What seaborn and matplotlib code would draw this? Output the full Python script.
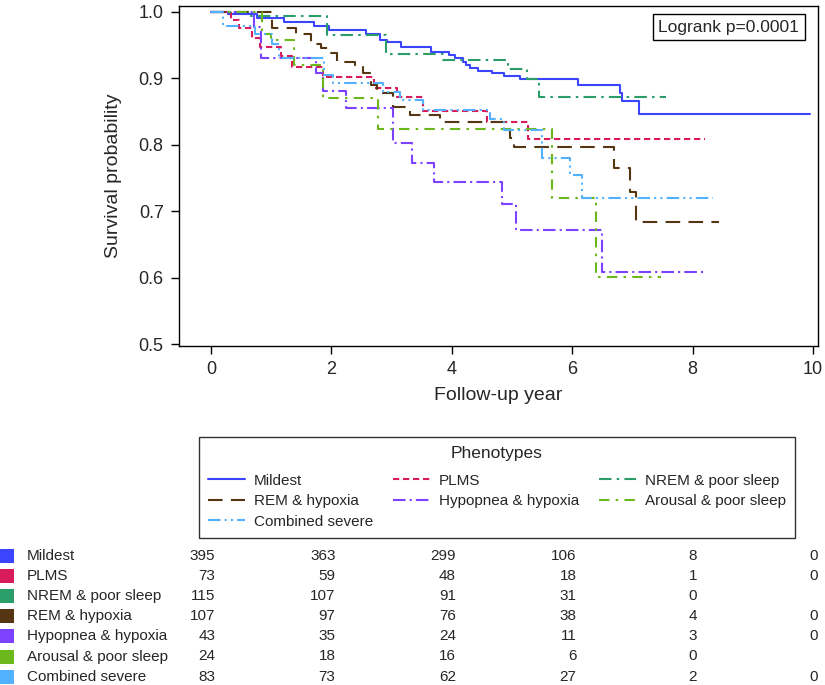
import numpy as np
import pandas as pd
import matplotlib
matplotlib.use("Agg")
import matplotlib.pyplot as plt
from matplotlib.patches import Rectangle
from matplotlib.transforms import blended_transform_factory
import seaborn as sns

# phenotype groups, in legend / table order
phenotypes = ["Mildest", "PLMS", "NREM & poor sleep", "REM & hypoxia",
              "Hypopnea & hypoxia", "Arousal & poor sleep", "Combined severe"]
colors = ["#3b45ff", "#d81b5a", "#2a9d68", "#553512", "#7c42ff", "#6cb71c", "#52b2ff"]
dash_styles = ["", (3, 1.8), (6, 2.5, 1.2, 2.5), (7, 4), (6, 2, 1, 2),
               (5, 3, 1.2, 3), (6, 2, 1, 2, 1, 2)]

# Kaplan-Meier step values (year, survival)
mildest_t = [0, 0.28, 0.77, 1.21, 1.71, 1.96, 2.57, 2.8, 2.93, 3.15, 3.65, 3.95, 4.06,
             4.18, 4.23, 4.31, 4.43, 4.67, 4.86, 5.14, 6.1, 6.79, 6.83, 7.11, 9.95]
mildest_s = [1.0, 0.996, 0.99, 0.985, 0.979, 0.973, 0.966, 0.958, 0.955, 0.947, 0.939, 0.935,
             0.930, 0.925, 0.920, 0.916, 0.911, 0.907, 0.903, 0.899, 0.889, 0.878, 0.865,
             0.846, 0.846]
plms_t = [0, 0.33, 0.47, 0.68, 0.82, 1.17, 1.34, 1.86, 2.7, 3.09, 3.52, 4.59, 5.26, 8.2]
plms_s = [1.0, 0.988, 0.975, 0.96, 0.947, 0.933, 0.917, 0.901, 0.885, 0.872, 0.851,
          0.834, 0.808, 0.808]
nrem_t = [0, 0.62, 1.92, 2.90, 3.85, 4.93, 5.25, 5.45, 7.55]
nrem_s = [1.0, 0.993, 0.965, 0.937, 0.927, 0.914, 0.899, 0.872, 0.872]
rem_t = [0, 1.01, 1.42, 1.67, 1.83, 2.0, 2.09, 2.39, 2.52, 2.66, 2.75, 3.02, 3.3, 3.8,
         4.88, 4.96, 5.04, 6.7, 6.96, 7.05, 8.43]
rem_s = [1.0, 0.975, 0.966, 0.952, 0.945, 0.938, 0.925, 0.920, 0.907, 0.890, 0.877,
         0.857, 0.845, 0.834, 0.822, 0.810, 0.797, 0.765, 0.729, 0.684, 0.684]
hypo_t = [0, 0.72, 0.83, 1.74, 1.86, 2.25, 3.03, 3.34, 3.71, 4.84, 5.07, 6.5, 8.2]
hypo_s = [1.0, 0.977, 0.931, 0.907, 0.881, 0.855, 0.803, 0.773, 0.744, 0.710, 0.672,
          0.608, 0.608]
arousal_t = [0, 0.85, 1.0, 1.38, 1.86, 2.78, 5.67, 6.4, 7.47]
arousal_s = [1.0, 0.967, 0.957, 0.920, 0.870, 0.823, 0.720, 0.601, 0.601]
combined_t = [0, 0.2, 0.73, 1.02, 1.13, 1.87, 2.03, 2.86, 3.14, 3.52, 4.63, 4.86, 5.5,
              5.97, 6.16, 8.34]
combined_s = [1.0, 0.979, 0.966, 0.952, 0.931, 0.905, 0.892, 0.879, 0.867, 0.852, 0.838,
              0.822, 0.780, 0.754, 0.720, 0.720]

# numbers at risk
risk_years = [0, 2, 4, 6, 8, 10]
risk_mildest = [395, 363, 299, 106, 8, 0]
risk_plms = [73, 59, 48, 18, 1, 0]
risk_nrem = [115, 107, 91, 31, 0, None]
risk_rem = [107, 97, 76, 38, 4, 0]
risk_hypo = [43, 35, 24, 11, 3, 0]
risk_arousal = [24, 18, 16, 6, 0, None]
risk_combined = [83, 73, 62, 27, 2, 0]

curves = [(mildest_t, mildest_s), (plms_t, plms_s), (nrem_t, nrem_s), (rem_t, rem_s),
          (hypo_t, hypo_s), (arousal_t, arousal_s), (combined_t, combined_s)]
risk = [risk_mildest, risk_plms, risk_nrem, risk_rem, risk_hypo, risk_arousal, risk_combined]

frames = []
for name, (t, s) in zip(phenotypes, curves):
    frames.append(pd.DataFrame({"year": t, "surv": s, "phenotype": name}))
df = pd.concat(frames, ignore_index=True)

sns.set_style("ticks")
plt.rcParams["font.family"] = ["Liberation Sans", "DejaVu Sans"]

fig = plt.figure(figsize=(8.25, 6.85), dpi=100)
W, H = 825, 685
ax = fig.add_axes([179 / W, 1 - 346 / H, (818 - 179) / W, (346 - 5.7) / H])

sns.lineplot(data=df, x="year", y="surv", hue="phenotype", style="phenotype",
             hue_order=phenotypes, style_order=phenotypes,
             palette=dict(zip(phenotypes, colors)),
             dashes=dict(zip(phenotypes, dash_styles)),
             drawstyle="steps-post", estimator=None, sort=False, linewidth=1.5, ax=ax)

handles, labels = ax.get_legend_handles_labels()
ax.get_legend().remove()
hmap = dict(zip(labels, handles))

ax.set_xlim(-0.53, 10.08)
ax.set_ylim(0.497, 1.009)
ax.set_xticks([0, 2, 4, 6, 8, 10])
ax.set_yticks([0.5, 0.6, 0.7, 0.8, 0.9, 1.0])
ax.yaxis.set_major_formatter(matplotlib.ticker.FormatStrFormatter("%.1f"))
ax.tick_params(axis="both", labelsize=13, length=6, width=1, pad=5, color="black")
for sp in ax.spines.values():
    sp.set_color("black")
    sp.set_linewidth(1)
ax.set_xlabel("Follow-up year", fontsize=14, labelpad=6)
ax.set_ylabel("Survival probability", fontsize=14, labelpad=12)

ax.text(0.8605, 0.937, "Logrank p=0.0001", transform=ax.transAxes, ha="center", va="center",
        fontsize=12.5, bbox=dict(boxstyle="square,pad=0.3", fc="white", ec="black", lw=1))

# legend laid out row by row like the original (matplotlib fills column-wise)
leg_order = ["Mildest", "REM & hypoxia", "Combined severe", "PLMS", "Hypopnea & hypoxia",
             "NREM & poor sleep", "Arousal & poor sleep"]
leg = fig.legend([hmap[n] for n in leg_order], leg_order, ncol=3, title="Phenotypes",
                 loc="center", mode="expand", borderaxespad=0,
                 bbox_to_anchor=(199 / W, 1 - 539 / H, (795 - 199) / W, (539 - 436) / H),
                 fontsize=11, title_fontsize=12.5, frameon=True, fancybox=False,
                 edgecolor="black", handlelength=2.4, handletextpad=0.6,
                 labelspacing=0.42, borderpad=0.6, columnspacing=1.0)
leg.get_frame().set_linewidth(1)
leg._legend_box.sep = 9

# numbers at risk table
trans = blended_transform_factory(ax.transData, fig.transFigure)
for i, (name, col, row) in enumerate(zip(phenotypes, colors, risk)):
    yc = 1 - (555.5 + 20.2 * i) / H
    fig.patches.append(Rectangle((0, yc - 7 / H), 14 / W, 14 / H, transform=fig.transFigure,
                                 facecolor=col, edgecolor="none", figure=fig))
    fig.text(27 / W, yc, name, ha="left", va="center", fontsize=11)
    for yr, n in zip(risk_years, row):
        if n is None:
            continue
        ax.text(yr + 0.07, yc, str(n), transform=trans, ha="right", va="center",
                fontsize=11, clip_on=False)

fig.savefig("out.png", dpi=100)
